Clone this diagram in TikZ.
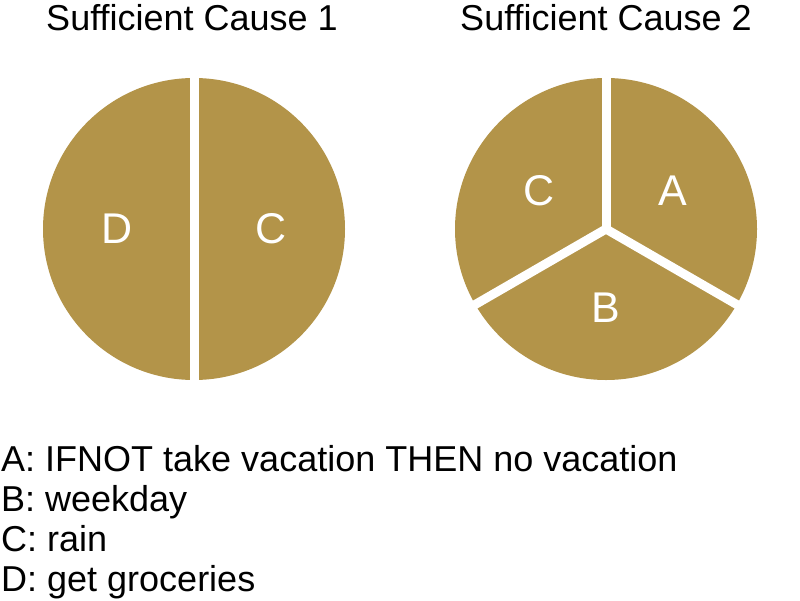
\documentclass[tikz,border=0pt]{standalone}
\usepackage{fontspec}
\setmainfont{Liberation Sans}
\usetikzlibrary{positioning}
\usetikzlibrary{calc}
\definecolor{causegold}{RGB}{179,148,73}
\def\pieRadius{151}
\def\gapWidth{9}
\tikzset{% pie chart styles
  pie/.style    = {circle, fill=causegold, draw=none, minimum size=2*\pieRadius pt, inner sep=0},
  slice/.style  = {text=white, font=\fontsize{43}{43}\selectfont, inner sep=0},
  title/.style  = {font=\fontsize{36}{40}\selectfont, anchor=base, inner sep=0},
  legend/.style = {font=\fontsize{36}{40}\selectfont, anchor=base west, inner sep=0},
  gap/.style    = {draw=white, line width=\gapWidth pt},
}
\begin{document}
\begin{tikzpicture}[x=1pt, y=-1pt]
        \useasboundingbox (0,0) rectangle (800,600);

        % sufficient cause 1
        \node[title] at (192,30) (T1) {Sufficient Cause 1};
        \node[pie] at (194,229) (SC1) {};
        \draw[gap] ([yshift=6pt]SC1.north) -- ([yshift=-6pt]SC1.south);

        \node[slice] at ($(SC1.center)!0.51!(SC1.west)$) (SC1D) {D};
        \node[slice] at ($(SC1.center)!0.51!(SC1.east)$) (SC1C) {C};

        % sufficient cause 2
        \node[title] at (606,30) (T2) {Sufficient Cause 2};
        \node[pie] at (606,229) (SC2) {};
        \draw[gap, line join=round] (SC2.center) -- ($(SC2.center)!1.05!(SC2.north)$);
        \draw[gap] (SC2.center) -- ($(SC2.center)!1.05!(SC2.210)$);
        \draw[gap] (SC2.center) -- ($(SC2.center)!1.05!(SC2.330)$);
        \fill[white] (SC2.center) circle (\gapWidth pt/2);

        \node[slice] at ($(SC2.center)!0.51!(SC2.30)$) (SC2A) {A};
        \node[slice] at ($(SC2.center)!0.52!(SC2.south)$) (SC2B) {B};
        \node[slice] at ($(SC2.center)!0.51!(SC2.150)$) (SC2C) {C};

        % legend
        \node[legend] at (1,471) (LA) {A: IFNOT take vacation THEN no vacation};
        \node[legend] at (1,511) (LB) {B: weekday};
        \node[legend] at (1,551) (LC) {C: rain};
        \node[legend] at (1,591) (LD) {D: get groceries};

\end{tikzpicture}
\end{document}
